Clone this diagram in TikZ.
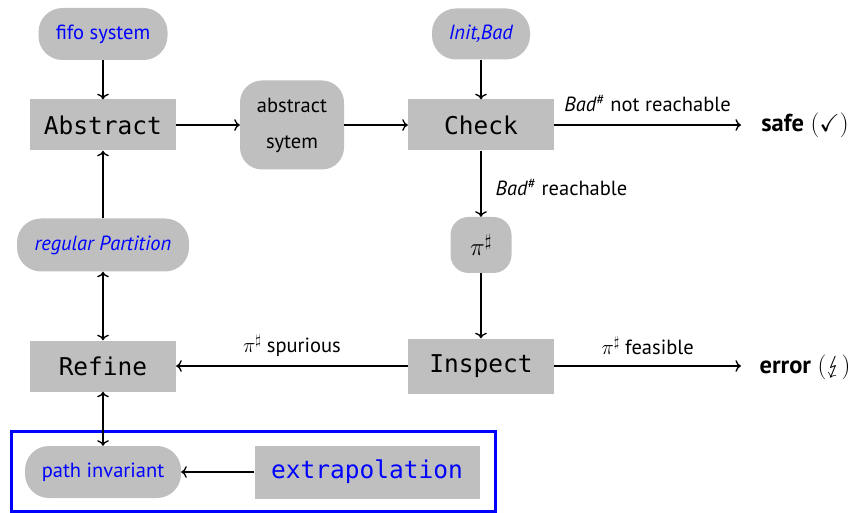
\documentclass[tikz,border=0pt]{standalone}
\usepackage{amssymb}
\usepackage{stmaryrd}
\usepackage{fontspec}
\setmainfont{PT Sans}
\setmonofont{DejaVu Sans Mono}
\usetikzlibrary{arrows.meta}
\begin{document}
\begin{tikzpicture}[x=1pt,y=-1pt,
  box/.style={fill=gray!50, minimum width=146pt, minimum height=51pt, inner sep=0pt, font=\ttfamily\fontsize{24.5}{28}\selectfont},
  rbox/.style={fill=gray!50, rounded corners=24pt, inner sep=0pt, font=\fontsize{20.5}{24}\selectfont},
  lbl/.style={font=\fontsize{20.5}{24}\selectfont, inner sep=0pt},
  res/.style={font=\fontsize{24.5}{28}\selectfont, inner sep=0pt},
  arr/.style={-{To[scale=1.25]}, line width=1.3pt},
  darr/.style={{To[scale=1.25]}-{To[scale=1.25]}, line width=1.3pt},
  blu/.style={text=blue}]
\useasboundingbox (0,0) rectangle (857,513);
\draw[blue, line width=3pt] (11,431) rectangle (495.5,511);
\node[rbox, blu, minimum width=129pt, minimum height=52pt] (fifo) at (103,34) {fifo system};
\node[box] (abs) at (103,125) {Abstract};
\node[rbox, rounded corners=22pt, minimum width=104pt, minimum height=89pt, align=center, font=\fontsize{20.5}{36}\selectfont] (asys) at (292,125) {abstract\\sytem};
\node[box] (check) at (481,125) {Check};
\node[rbox, blu, minimum width=98pt, minimum height=51pt] (init) at (481,34) {\textit{Init,Bad}};
\node[res] (safe) at (805,125) {\textbf{safe} $(\checkmark)$};
\node[rbox, minimum width=61pt, minimum height=56pt, rounded corners=18pt, font=\fontsize{23}{26}\selectfont] (pi) at (481,245) {$\pi^\sharp$};
\node[box, minimum height=55pt] (insp) at (481,366) {Inspect};
\node[res] (err) at (805,367) {\textbf{error} $(\lightning)$};
\node[rbox, blu, minimum width=172pt, minimum height=53pt] (reg) at (103,245) {\textit{regular Partition}};
\node[box] (ref) at (103,366) {Refine};
\node[rbox, blu, minimum width=156pt, minimum height=52pt] (path) at (103,472) {path invariant};
\node[box, blu, minimum width=225pt, minimum height=53pt] (extra) at (367,472) {extrapolation};
\coordinate (safeend) at (741,125);
\coordinate (errend) at (741,366);
\draw[arr] (fifo) -- (abs);
\draw[arr] (reg) -- (abs);
\draw[arr] (abs) -- (asys);
\draw[arr] (asys) -- (check);
\draw[arr] (init) -- (check);
\draw[arr] (check.east) -- node[lbl, midway, anchor=base, yshift=13pt] {\textit{Bad}\textsuperscript{\#} not reachable} (safeend);
\draw[arr] (check) -- node[lbl, midway, anchor=west, xshift=14pt, yshift=-4pt] {\textit{Bad}\textsuperscript{\#} reachable} (pi);
\draw[arr] (pi) -- (insp);
\draw[arr] (insp) -- node[lbl, midway, anchor=base, yshift=14pt] {$\pi^\sharp$ spurious} (ref);
\draw[arr] (insp.east) -- node[lbl, midway, anchor=base, yshift=12pt] {$\pi^\sharp$ feasible} (errend);
\draw[darr] (reg) -- (ref);
\draw[darr] (ref) -- (path);
\draw[arr] (extra) -- (path);
\end{tikzpicture}
\end{document}
